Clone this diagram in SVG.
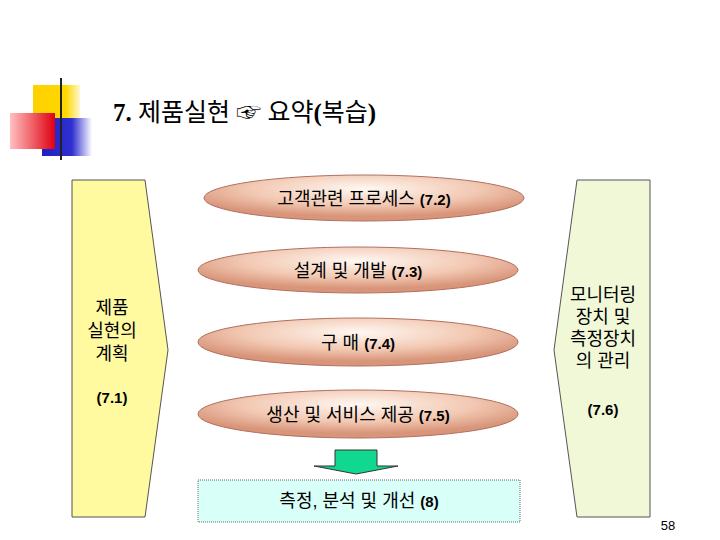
<svg xmlns="http://www.w3.org/2000/svg" width="720" height="540" viewBox="0 0 720 540">
<defs>
<radialGradient id="eg" cx="0.5" cy="0.3" r="0.6">
<stop offset="0" stop-color="#fff8f2"/><stop offset="0.6" stop-color="#f2c8b2"/><stop offset="1" stop-color="#d8957a"/>
</radialGradient>
<linearGradient id="red" x1="0" y1="0" x2="1" y2="0"><stop offset="0" stop-color="#ffc0c0"/><stop offset="1" stop-color="#e00010"/></linearGradient>
<linearGradient id="blu" x1="0" y1="0" x2="1" y2="0"><stop offset="0" stop-color="#2020c0"/><stop offset="0.6" stop-color="#3030d0"/><stop offset="1" stop-color="#ffffff"/></linearGradient>
<linearGradient id="yel" x1="0" y1="0" x2="1" y2="0"><stop offset="0" stop-color="#ffd000"/><stop offset="0.7" stop-color="#ffd800"/><stop offset="1" stop-color="#fff8d0"/></linearGradient>
<linearGradient id="ln" x1="0" y1="0" x2="1" y2="0"><stop offset="0" stop-color="#333"/><stop offset="1" stop-color="#fff"/></linearGradient>
<style>
.t{font-family:"Liberation Sans","Noto Sans CJK KR",sans-serif;font-size:18px;fill:#000;text-anchor:middle}
.n{font-family:"Liberation Sans",sans-serif;font-weight:bold;font-size:15px}
.el{fill:url(#eg);stroke:#b07060;stroke-width:1}
</style>
</defs>
<g id="title">
<rect x="33" y="85" width="47" height="45" fill="url(#yel)"/>
<rect x="42" y="118" width="50" height="38" fill="url(#blu)"/>
<rect x="10" y="113" width="45" height="36" fill="url(#red)"/>
<line x1="61" y1="78" x2="61" y2="160" stroke="#222" stroke-width="2"/>
<line x1="35" y1="141" x2="720" y2="141" stroke="url(#ln)" stroke-width="3"/>
<text x="113" y="121" font-family="'Liberation Serif','Noto Sans CJK KR',serif" font-size="25"><tspan font-weight="bold">7.</tspan> 제품실현  ☞  요약<tspan font-weight="bold">(</tspan>복습<tspan font-weight="bold">)</tspan></text>
</g>
<g id="plan">
<polygon points="72,180 145,180 168,350 145,517 72,517" fill="#fff9a0" stroke="#555"/>
<text class="t" x="112" y="314">제품</text>
<text class="t" x="112" y="337">실현의</text>
<text class="t" x="112" y="360">계획</text>
<text class="t n" x="112" y="403">(7.1)</text>
</g>
<g id="monitor">
<polygon points="577,180 650,180 650,517 577,517 554,350" fill="#f0f8d8" stroke="#555"/>
<text class="t" x="603" y="301">모니터링</text>
<text class="t" x="603" y="323">장치 및</text>
<text class="t" x="603" y="345">측정장치</text>
<text class="t" x="603" y="367">의 관리</text>
<text class="t n" x="603" y="415">(7.6)</text>
</g>
<g id="e1"><ellipse class="el" cx="364" cy="198" rx="160" ry="23"/><text class="t" x="364" y="205">고객관련 프로세스 <tspan class="n">(7.2)</tspan></text></g>
<g id="e2"><ellipse class="el" cx="358" cy="270" rx="160" ry="23"/><text class="t" x="358" y="277">설계 및 개발 <tspan class="n">(7.3)</tspan></text></g>
<g id="e3"><ellipse class="el" cx="358" cy="342" rx="160" ry="24"/><text class="t" x="358" y="349">구  매 <tspan class="n">(7.4)</tspan></text></g>
<g id="e4"><ellipse class="el" cx="358" cy="414" rx="160" ry="24"/><text class="t" x="358" y="421">생산 및 서비스 제공 <tspan class="n">(7.5)</tspan></text></g>
<g id="connectors">
<polygon points="335,450 377,450 377,466 398,466 356,474 314,466 335,466" fill="#10d890" stroke="#333"/>
</g>
<g id="measure">
<rect x="198" y="480" width="322" height="42" fill="#d8fff8" stroke="#666" stroke-dasharray="1,1"/>
<text class="t" x="359" y="507">측정, 분석 및 개선 <tspan class="n">(8)</tspan></text>
</g>
<text x="668" y="530" font-family="'Liberation Sans',sans-serif" font-size="13" text-anchor="middle">58</text>
</svg>
